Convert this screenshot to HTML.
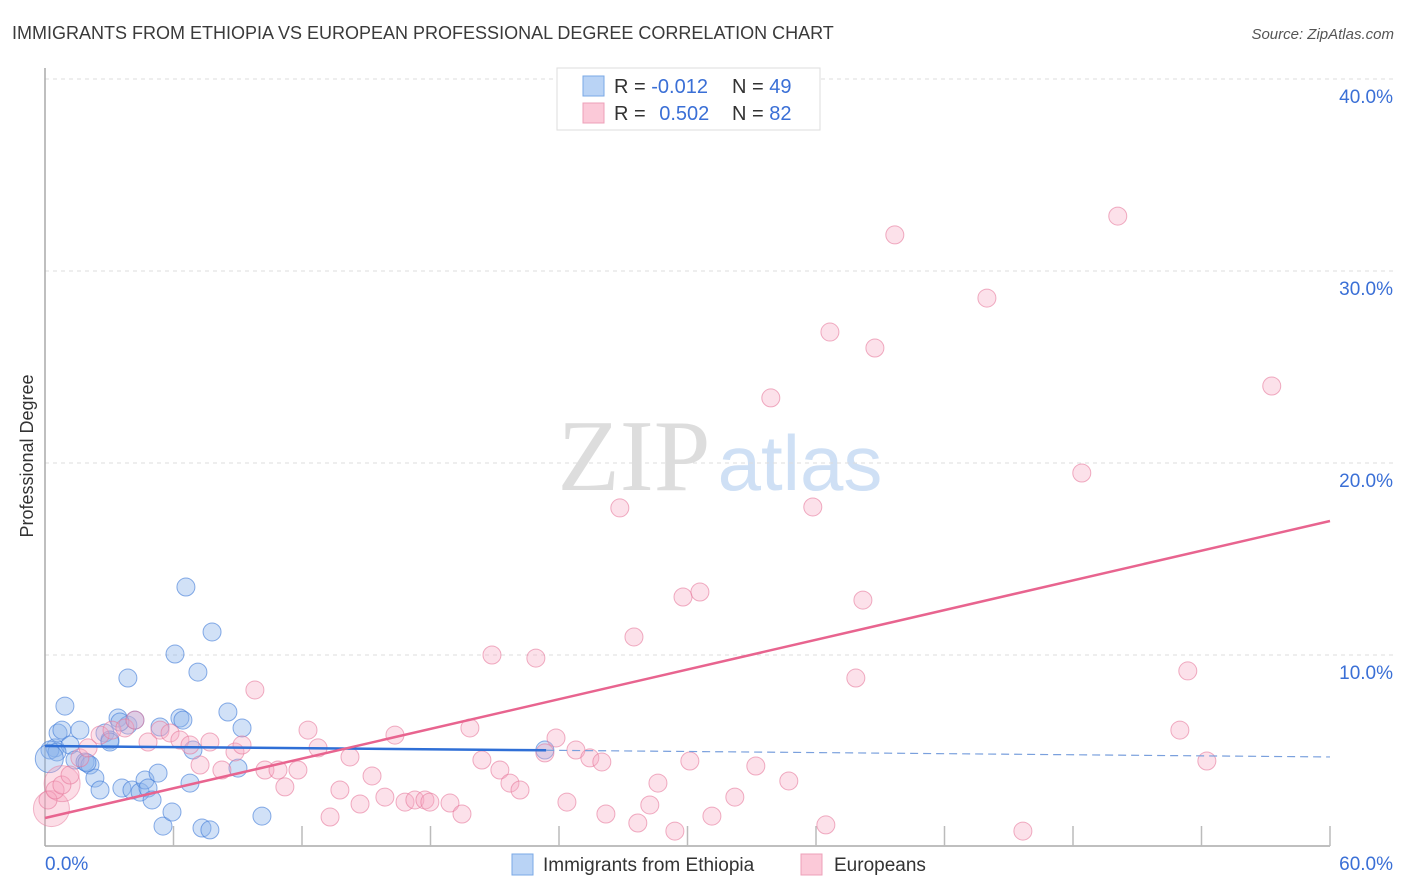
<!DOCTYPE html>
<html><head><meta charset="utf-8"><style>
body{margin:0;background:#fff;font-family:"Liberation Sans",sans-serif;}
svg{display:block}
</style></head><body>
<svg id="chart" width="1406" height="892" xmlns="http://www.w3.org/2000/svg">
<text x="12" y="39" font-size="18" fill="#3a3a3a">IMMIGRANTS FROM ETHIOPIA VS EUROPEAN PROFESSIONAL DEGREE CORRELATION CHART</text>
<text x="1394" y="39" font-size="15" fill="#555" font-style="italic" text-anchor="end">Source: ZipAtlas.com</text>
<text transform="translate(33,456) rotate(-90)" font-size="18" fill="#333" text-anchor="middle">Professional Degree</text>
<g>
<text x="634" y="490" font-size="102" fill="#ddd" font-family="Liberation Serif,serif" text-anchor="middle">ZIP</text>
<text x="800" y="490" font-size="78" fill="#cfe0f5" text-anchor="middle">atlas</text>
</g>
<g id="grid"></g>
<g id="axes"></g>
<g id="blue"></g>
<g id="pink"></g>
<g id="trends"></g>
<g>
<rect x="557" y="68" width="263" height="62" fill="#fff" stroke="#ddd"/>
<rect x="583" y="76" width="21" height="20" fill="#b9d3f5" stroke="#7aa8e6"/>
<rect x="583" y="103" width="21" height="20" fill="#fbc9d8" stroke="#eea0b8"/>
<text x="614" y="93" font-size="20" fill="#333">R = <tspan fill="#3a6fd6">-0.012</tspan></text>
<text x="732" y="93" font-size="20" fill="#333">N = <tspan fill="#3a6fd6">49</tspan></text>
<text x="614" y="120" font-size="20" fill="#333">R = <tspan fill="#3a6fd6" dx="8">0.502</tspan></text>
<text x="732" y="120" font-size="20" fill="#333">N = <tspan fill="#3a6fd6">82</tspan></text>
</g>
<g>
<rect x="512" y="854" width="21" height="21" fill="#b9d3f5" stroke="#7aa8e6"/>
<text x="543" y="871" font-size="19" fill="#333">Immigrants from Ethiopia</text>
<rect x="801" y="854" width="21" height="21" fill="#fbc9d8" stroke="#eea0b8"/>
<text x="834" y="871" font-size="19" fill="#333">Europeans</text>
</g>
</svg>
<script>
const xTicksLabels=["0.0%","60.0%"];
const yTickValues=[10,20,30,40];
const blueX=[0.47,0.61,0.23,0.93,0.79,1.17,1.40,1.63,1.87,2.10,2.33,2.57,2.80,3.03,3.41,3.59,3.87,4.06,4.44,4.67,4.81,5.00,5.28,5.37,5.51,5.93,6.07,6.30,6.44,6.58,6.77,6.91,7.14,7.33,7.70,7.80,8.54,9.01,9.20,10.13,3.87,1.96,3.03,4.20,0.56,23.34,3.50,0.2];
const blueY=[5.16,5.94,5.05,7.34,6.09,5.31,4.53,6.09,4.43,4.27,3.59,2.97,5.94,5.57,6.72,3.07,6.35,2.97,2.86,3.49,3.07,2.45,3.85,6.25,1.09,1.82,10.05,6.72,6.61,13.54,3.33,5.05,9.11,0.99,0.89,11.20,7.03,4.11,6.20,1.61,8.80,4.38,5.47,6.61,4.95,5.05,6.51,4.6];
const pinkX=[0.14,0.47,0.79,1.17,1.63,2.01,2.57,3.13,3.73,4.20,4.81,5.37,5.84,6.30,6.77,7.24,7.70,8.26,8.87,9.20,9.80,10.27,10.88,11.20,11.81,12.28,12.75,13.31,13.77,14.24,14.71,15.27,15.87,16.34,16.81,17.27,17.74,17.97,18.91,19.47,19.84,20.40,20.87,21.24,21.71,22.18,22.92,23.86,23.34,24.37,24.79,25.44,26.00,26.19,26.84,27.50,27.68,28.24,28.62,29.41,29.79,30.11,30.58,31.14,32.21,33.19,33.89,34.73,35.85,36.46,36.65,38.19,37.86,38.75,39.68,43.98,45.66,48.41,50.09,52.99,53.36,54.25,57.28];
const pinkY=[2.45,2.97,3.23,3.75,4.64,5.16,5.83,6.09,6.20,6.61,5.47,6.09,5.94,5.57,5.31,4.27,5.47,4.01,4.95,5.31,8.18,4.01,4.01,3.13,4.01,6.09,5.16,1.56,2.97,4.69,2.24,3.70,2.60,5.83,2.34,2.45,2.45,2.34,2.29,1.72,6.20,4.53,10.0,4.01,3.33,2.97,9.84,5.68,4.90,2.34,5.05,4.64,4.43,1.72,17.66,10.94,1.25,2.19,3.33,0.83,13.02,4.48,13.28,1.61,2.60,4.22,23.39,3.44,17.71,1.15,26.82,12.86,8.80,25.99,31.88,28.59,0.83,19.48,32.86,6.09,9.17,4.48,24.01];
const bigPinkX=[0.3,0.8];
const bigPinkY=[2.0,3.3];
const blueTrend=[5.26,4.69];
const blueTrendEndSolid=23.4;
const pinkTrend=[1.51,16.98];
const NS="http://www.w3.org/2000/svg";
const X0=45,X1=1330,Y0=847,YPX=19.2;
function sx(v){return X0+v*(X1-X0)/60;}
function sy(v){return Y0-v*YPX;}
function mk(p,tag,a){const e=document.createElementNS(NS,tag);for(const k in a)e.setAttribute(k,a[k]);p.appendChild(e);return e;}
const grid=document.getElementById('grid');
yTickValues.forEach(v=>{
 const l=mk(grid,'line',{x1:45,x2:1395,y1:sy(v),y2:sy(v),stroke:'#ddd','stroke-dasharray':'4,4'});
 
 
 const t=mk(grid,'text',{x:1393,y:sy(v)+24,'font-size':19,fill:'#3a6fd6','text-anchor':'end'});
 t.textContent=v.toFixed(1)+'%';
 
 
});
const ax=document.getElementById('axes');
let e=mk(ax,'line',{x1:45,x2:45,y1:68,y2:846,stroke:'#aaa','stroke-width':1.5});


e=mk(ax,'line',{x1:45,x2:1330,y1:846,y2:846,stroke:'#aaa','stroke-width':1.5});


for(let i=1;i<=10;i++){const t=mk(ax,'line',{x1:sx(i*6),x2:sx(i*6),y1:826,y2:846,stroke:'#bbb','stroke-width':1.5});
 
 }
e=mk(ax,'text',{x:45,y:870,'font-size':19,fill:'#3a6fd6'});e.textContent=xTicksLabels[0];


e=mk(ax,'text',{x:1393,y:870,'font-size':19,fill:'#3a6fd6','text-anchor':'end'});e.textContent=xTicksLabels[1];


const pg=document.getElementById('pink');
bigPinkX.forEach((x,i)=>{const c=mk(pg,'circle',{cx:sx(x),cy:sy(bigPinkY[i]),r:18,fill:'rgba(246,160,185,0.35)',stroke:'rgba(230,120,155,0.5)'});
 
 });
pinkX.forEach((x,i)=>{const c=mk(pg,'circle',{cx:sx(x),cy:sy(pinkY[i]),r:9,fill:'rgba(246,170,195,0.35)',stroke:'rgba(230,120,155,0.6)'});
 
 });
const bg=document.getElementById('blue');
blueX.forEach((x,i)=>{const c=mk(bg,'circle',{cx:sx(x),cy:sy(blueY[i]),r:(i==blueX.length-1?14:9),fill:'rgba(140,180,235,0.4)',stroke:'rgba(60,120,215,0.6)'});
 
 });
const tg=document.getElementById('trends');
const bAt=x=>blueTrend[0]+(blueTrend[1]-blueTrend[0])*x/60;
e=mk(tg,'line',{x1:sx(0),y1:sy(bAt(0)),x2:sx(blueTrendEndSolid),y2:sy(bAt(blueTrendEndSolid)),stroke:'#2f6fd6','stroke-width':2.5});


e=mk(tg,'line',{x1:sx(blueTrendEndSolid),y1:sy(bAt(blueTrendEndSolid)),x2:sx(60),y2:sy(bAt(60)),stroke:'#7aa0dd','stroke-width':1.2,'stroke-dasharray':'8,5'});


e=mk(tg,'line',{x1:sx(0),y1:sy(pinkTrend[0]),x2:sx(60),y2:sy(pinkTrend[1]),stroke:'#e8648f','stroke-width':2.5});


</script>
</body></html>
